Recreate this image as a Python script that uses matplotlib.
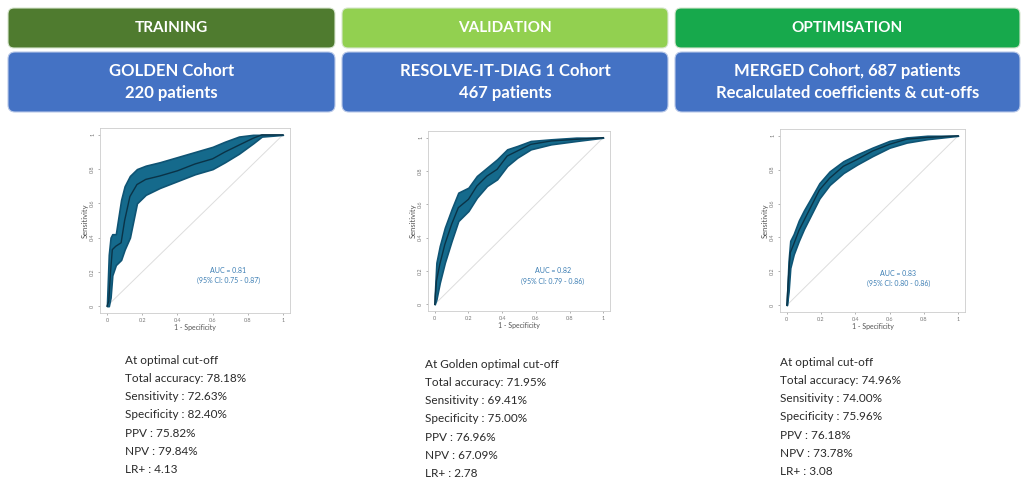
import matplotlib
matplotlib.use('Agg')  # no display
import matplotlib.pyplot as plt
from matplotlib.patches import FancyBboxPatch

plt.rcParams['font.family'] = ['Lato', 'DejaVu Sans']

W, H = 1024, 479

# header texts
stages = ['TRAINING', 'VALIDATION', 'OPTIMISATION']
cohorts = ['GOLDEN Cohort\n220 patients',
           'RESOLVE-IT-DIAG 1 Cohort\n467 patients',
           'MERGED Cohort, 687 patients\nRecalculated coefficients & cut-offs']

# ROC curves (1 - specificity, sensitivity, 95% CI band)
fpr_golden = [0.00, 0.01, 0.02, 0.03, 0.05, 0.08, 0.10, 0.13, 0.17, 0.22, 0.30, 0.40, 0.50, 0.60, 0.67, 0.75, 0.83, 0.88, 1.00]
sens_golden = [0.00, 0.03, 0.20, 0.33, 0.35, 0.37, 0.50, 0.64, 0.71, 0.74, 0.76, 0.79, 0.83, 0.86, 0.90, 0.94, 0.98, 1.00, 1.00]
lo_golden = [0.00, 0.00, 0.05, 0.18, 0.24, 0.27, 0.33, 0.40, 0.60, 0.65, 0.69, 0.73, 0.77, 0.80, 0.84, 0.89, 0.95, 0.99, 1.00]
hi_golden = [0.02, 0.30, 0.40, 0.42, 0.42, 0.62, 0.70, 0.76, 0.80, 0.82, 0.84, 0.87, 0.90, 0.93, 0.96, 0.99, 1.00, 1.00, 1.00]

fpr_resolve = [0.00, 0.01, 0.03, 0.06, 0.10, 0.14, 0.20, 0.25, 0.31, 0.37, 0.43, 0.49, 0.57, 0.69, 0.84, 1.00]
sens_resolve = [0.00, 0.14, 0.24, 0.36, 0.48, 0.58, 0.63, 0.71, 0.77, 0.81, 0.89, 0.92, 0.96, 0.98, 0.99, 1.00]
lo_resolve = [0.00, 0.03, 0.13, 0.25, 0.38, 0.50, 0.56, 0.64, 0.71, 0.75, 0.83, 0.88, 0.93, 0.96, 0.98, 1.00]
hi_resolve = [0.05, 0.25, 0.35, 0.46, 0.57, 0.67, 0.70, 0.77, 0.82, 0.87, 0.93, 0.95, 0.98, 0.99, 1.00, 1.00]

fpr_merged = [0.00, 0.01, 0.02, 0.04, 0.07, 0.10, 0.14, 0.19, 0.25, 0.33, 0.41, 0.50, 0.60, 0.70, 0.82, 1.00]
sens_merged = [0.00, 0.17, 0.31, 0.36, 0.44, 0.50, 0.58, 0.68, 0.75, 0.82, 0.86, 0.91, 0.95, 0.98, 0.99, 1.00]
lo_merged = [0.00, 0.08, 0.22, 0.30, 0.38, 0.45, 0.53, 0.63, 0.71, 0.78, 0.83, 0.88, 0.93, 0.96, 0.98, 1.00]
hi_merged = [0.03, 0.26, 0.38, 0.42, 0.50, 0.56, 0.63, 0.72, 0.79, 0.85, 0.89, 0.93, 0.97, 0.99, 1.00, 1.00]

auc_labels = ['AUC = 0.81\n(95% CI: 0.75 - 0.87)',
              'AUC = 0.82\n(95% CI: 0.79 - 0.86)',
              'AUC = 0.83\n(95% CI: 0.80 - 0.86)']

# performance at cut-off
cutoff_titles = ['At optimal cut-off', 'At Golden optimal cut-off', 'At optimal cut-off']
metric_names = ['Total accuracy:', 'Sensitivity :', 'Specificity :', 'PPV :', 'NPV :', 'LR+ :']
metrics_golden = ['78.18%', '72.63%', '82.40%', '75.82%', '79.84%', '4.13']
metrics_resolve = ['71.95%', '69.41%', '75.00%', '76.96%', '67.09%', '2.78']
metrics_merged = ['74.96%', '74.00%', '75.96%', '76.18%', '73.78%', '3.08']

curves = [(fpr_golden, sens_golden, lo_golden, hi_golden),
          (fpr_resolve, sens_resolve, lo_resolve, hi_resolve),
          (fpr_merged, sens_merged, lo_merged, hi_merged)]
metrics = [metrics_golden, metrics_resolve, metrics_merged]

# layout in pixels
col_x = [(8, 335), (342, 668), (675, 1020)]
stage_colors = ['#4f7b2f', '#92d050', '#17a94c']
cohort_color = '#4472c4'
roc_rects = [(100, 128, 190, 185), (428, 131, 182, 180), (780, 129, 185, 183)]
auc_pos = [(0.69, 0.18), (0.70, 0.17), (0.65, 0.16)]
text_pos = [(125, 360), (425, 364), (780, 362)]
line_step = 18.3

fig = plt.figure(figsize=(W / 100, H / 100), dpi=100)
fig.patch.set_facecolor('white')

bg = fig.add_axes([0, 0, 1, 1])
bg.set_xlim(0, W)
bg.set_ylim(H, 0)
bg.axis('off')

for i in range(3):
    x0, x1 = col_x[i]
    bg.add_patch(FancyBboxPatch((x0, 8), x1 - x0, 40,
                                boxstyle='round,pad=0,rounding_size=6',
                                facecolor=stage_colors[i], edgecolor='#d8e6d0', lw=0.8))
    bg.text((x0 + x1) / 2, 28, stages[i], color='white', fontsize=11,
            fontweight='bold', ha='center', va='center')
    bg.add_patch(FancyBboxPatch((x0, 52), x1 - x0, 60,
                                boxstyle='round,pad=0,rounding_size=7',
                                facecolor=cohort_color, edgecolor='#b8c8e8', lw=0.8))
    bg.text((x0 + x1) / 2, 82, cohorts[i], color='white', fontsize=12,
            fontweight='bold', ha='center', va='center', linespacing=1.45)

    # cut-off metrics
    tx, ty = text_pos[i]
    lines = [cutoff_titles[i]] + [f'{n} {v}' for n, v in zip(metric_names, metrics[i])]
    for k, s in enumerate(lines):
        bg.text(tx, ty + k * line_step, s, fontsize=8.5, color='#2a2a2a',
                ha='left', va='center')

# ROC panels
for i in range(3):
    l, t, w, h = roc_rects[i]
    ax = fig.add_axes([l / W, 1 - (t + h) / H, w / W, h / H])
    fpr, sens, lo, hi = curves[i]
    ax.plot([0, 1], [0, 1], color='#dddddd', lw=0.7, zorder=1)
    ax.fill_between(fpr, lo, hi, color='#156a8c', edgecolor='#0f5474',
                    lw=1.2, zorder=2)
    ax.plot(fpr, sens, color='#0a3347', lw=1.0, zorder=3)
    ax.set_xlim(-0.04, 1.04)
    ax.set_ylim(-0.04, 1.04)
    ax.set_xticks([0, 0.2, 0.4, 0.6, 0.8, 1])
    ax.set_xticklabels(['0', '0.2', '0.4', '0.6', '0.8', '1'])
    ax.set_yticks([0, 0.2, 0.4, 0.6, 0.8, 1])
    ax.set_yticklabels(['0', '0.2', '0.4', '0.6', '0.8', '1'], rotation=90, va='center')
    ax.tick_params(labelsize=4, colors='#777777', length=1.5, width=0.4, pad=2)
    for sp in ax.spines.values():
        sp.set_color('#cccccc')
        sp.set_linewidth(0.6)
    ax.set_xlabel('1 - Specificity', fontsize=5, color='#555555', labelpad=1)
    ax.set_ylabel('Sensitivity', fontsize=5.5, color='#555555', labelpad=1)
    ax.text(auc_pos[i][0], auc_pos[i][1], auc_labels[i], fontsize=5, color='#3b7db3',
            ha='center', va='center', linespacing=1.5)

fig.savefig('out.png', dpi=100, facecolor='white')
plt.close(fig)
